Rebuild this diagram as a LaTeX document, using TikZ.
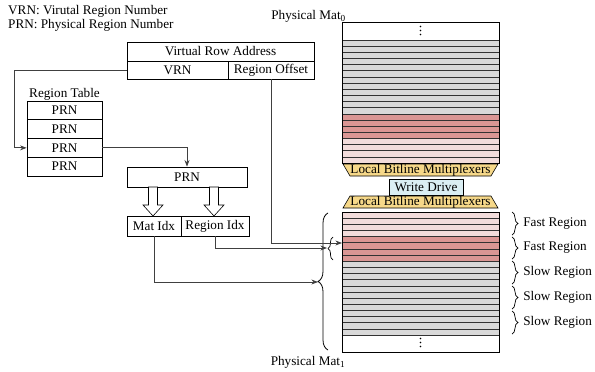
\documentclass[tikz,border=0pt]{standalone}
\usepackage{fontspec}
\setmainfont{Liberation Serif}
\usetikzlibrary{arrows.meta,decorations.pathreplacing}

\definecolor{slowgray}{HTML}{D9D9D9}
\definecolor{fastred}{HTML}{DA9694}
\definecolor{fastpink}{HTML}{F2DCDB}
\definecolor{muxyellow}{HTML}{F6D889}
\definecolor{driveblue}{HTML}{DAEEF3}

\begin{document}
\begin{tikzpicture}[x=1pt,y=-1pt,font=\fontsize{13.2}{15}\selectfont]

\useasboundingbox (0,0) rectangle (595,372);

\tikzstyle{box}=[draw,line width=0.7pt,rectangle,inner sep=0pt,minimum height=19pt,anchor=center]
\tikzstyle{conn}=[draw=black!75,line width=0.8pt]
\tikzstyle{row}=[draw=black!80,line width=0.6pt]
\tikzstyle{mux}=[draw,line width=0.6pt,fill=muxyellow]
\tikzstyle{brc}=[line width=0.7pt,decorate,decoration={brace,amplitude=6pt}]
\tikzstyle{bracelabel}=[anchor=west,inner sep=0pt,xshift=11pt]

% Legend
\node[anchor=west,inner sep=0pt] (lgvrn) at (8,11) {VRN: Virutal Region Number};
\node[anchor=west,inner sep=0pt] (lgprn) at (8,25) {PRN: Physical Region Number};

% Address fields
\node[box,minimum width=187pt] (vra) at (220.5,51.5) {Virtual Row Address};
\node[box,minimum width=101pt,minimum height=18pt] (vrn) at (177.5,70) {VRN};
\node[box,minimum width=86pt,minimum height=18pt] (roff) at (271,70) {Region Offset};

% Region table
\node[inner sep=0pt] (rtlabel) at (64.5,94) {Region Table};
\foreach \k in {1,...,4}
  \node[box,minimum width=75pt,minimum height=18.75pt] (rt\k) at (64.5,91.6+18.75*\k) {PRN};

% Physical region number and its split
\node[box,minimum width=120pt,minimum height=20pt] (prn) at (187,177) {PRN};
\node[box,minimum width=54pt,minimum height=20pt] (matidx) at (154,226) {Mat Idx};
\node[box,minimum width=68pt,minimum height=20pt] (regidx) at (215,226) {Region Idx};

\foreach \ax in {153,214}
  \draw[fill=white,line width=0.6pt] (\ax-4.5,187) -- (\ax+4.5,187) -- (\ax+4.5,205)
    -- (\ax+10,205) -- (\ax,216) -- (\ax-10,205) -- (\ax-4.5,205) -- cycle;

% Mat 0 rows
\foreach \i in {0,...,19}{
  \ifnum\i<12 \def\rc{slowgray}\else\ifnum\i<16 \def\rc{fastred}\else\def\rc{fastpink}\fi\fi
  \draw[row,fill=\rc] (342,40+6.15*\i) rectangle (499,46.15+6.15*\i);
}
\draw[line width=0.8pt] (342,22) rectangle (499,163);
\foreach \d in {0,1,2}
  \fill (420.5,26.5+4*\d) circle (0.9pt);
\node[anchor=east,inner sep=0pt] (mat0) at (346,16) {Physical Mat\textsubscript{0}};

% Mat 1 rows
\foreach \i in {0,...,19}{
  \ifnum\i<4 \def\rc{fastpink}\else\ifnum\i<8 \def\rc{fastred}\else\def\rc{slowgray}\fi\fi
  \draw[row,fill=\rc] (342,212+6.15*\i) rectangle (499,218.15+6.15*\i);
}
\draw[line width=0.8pt] (342,212) rectangle (499,352);
\foreach \d in {0,1,2}
  \fill (420.5,338.5+4*\d) circle (0.9pt);
\node[inner sep=0pt] (mat1) at (308,362) {Physical Mat\textsubscript{1}};

% Multiplexers and write drive
\draw[mux] (343,164) -- (498,164) -- (491,176) -- (350,176) -- cycle;
\node[inner sep=0pt] (muxtop) at (420.5,170) {Local Bitline Multiplexers};
\node[box,fill=driveblue,minimum width=74pt,minimum height=16pt] (wd) at (426,187) {Write Drive};
\draw[mux] (350,196) -- (491,196) -- (498,208) -- (343,208) -- cycle;
\node[inner sep=0pt] (muxbot) at (420.5,202) {Local Bitline Multiplexers};

% Braces
\draw[line width=0.8pt,decorate,decoration={brace,amplitude=10pt}] (328,350) -- (328,213);
\draw[line width=0.7pt,decorate,decoration={brace,amplitude=5pt}] (333,260) -- (333,237);

\draw[brc] (512,212) -- (512,235) node[bracelabel,midway] (fast1) {Fast Region};
\draw[brc] (512,237) -- (512,259) node[bracelabel,midway] (fast2) {Fast Region};
\draw[brc] (512,261) -- (512,284) node[bracelabel,midway] (slow1) {Slow Region};
\draw[brc] (512,286) -- (512,309) node[bracelabel,midway] (slow2) {Slow Region};
\draw[brc] (512,311) -- (512,334) node[bracelabel,midway] (slow3) {Slow Region};

% Links
\coordinate (bigtip) at (318,282);
\coordinate (smalltip) at (327,248);
\coordinate (rowin) at (342,243);

\draw[conn,-Stealth] (vrn.west) -- ++(-112,0) |- (rt3.west);
\draw[conn,-Stealth] (rt3.east) -| (prn.north);
\draw[conn,-Stealth] (matidx.south) |- (bigtip);
\draw[conn,-Stealth] (regidx.south) |- (smalltip);
\draw[conn,-Stealth] (roff.south) |- (rowin);

\end{tikzpicture}
\end{document}
